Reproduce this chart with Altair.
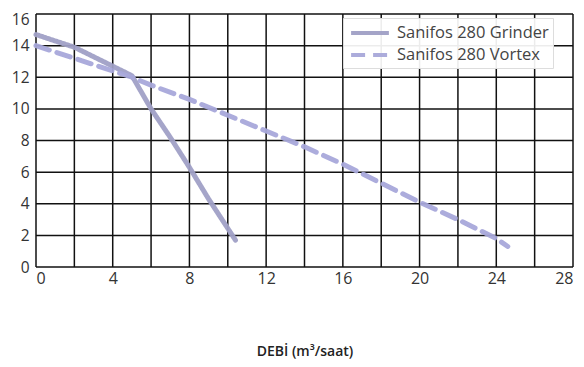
import altair as alt
import pandas as pd

grinder_x = [0, 2, 2.5, 4, 5, 6, 7, 8, 9, 10.4]
grinder_y = [14.7, 13.9, 13.6, 12.7, 12.1, 10.0, 8.2, 6.3, 4.3, 1.7]
vortex_x = [0, 2, 4, 5, 6, 8, 10, 12, 14, 16, 18, 20, 22, 24, 24.6]
vortex_y = [14.0, 13.2, 12.4, 12.0, 11.5, 10.6, 9.6, 8.6, 7.6, 6.5, 5.3, 4.1, 3.0, 1.8, 1.3]
series = ["Sanifos 280 Grinder", "Sanifos 280 Vortex"]
x_ticks = [0, 4, 8, 12, 16, 20, 24, 28]
y_ticks = [0, 2, 4, 6, 8, 10, 12, 14, 16]

rows = []
for i, (x, y) in enumerate(zip(grinder_x, grinder_y)):
    rows.append({"x": x, "y": y, "s": series[0], "o": i})
for i, (x, y) in enumerate(zip(vortex_x, vortex_y)):
    rows.append({"x": x, "y": y, "s": series[1], "o": i})
df = pd.DataFrame(rows)

font = "Open Sans"

legend = alt.Legend(title=None, orient="none", legendX=307, legendY=4,
                    symbolType="M-2.1,0H2.1", symbolStrokeWidth=4,
                    symbolSize=324, symbolOffset=12, labelFontSize=16.5, labelFont=font,
                    labelColor="#444", fillColor="rgba(255,255,255,0.92)",
                    strokeColor="#ddd", padding=4, rowPadding=2,
                    labelOffset=16, labelLimit=300)

x_axis = alt.Axis(values=x_ticks, grid=False, title="DEBİ (m³/saat)",
                  labelFontSize=16, labelColor="#333", labelOverlap=False,
                  labelFont=font, ticks=False, labelPadding=3,
                  domain=False, titleFont=font, titleFontSize=14,
                  titleFontWeight=600, titleColor="#222", titlePadding=58)
y_axis = alt.Axis(values=y_ticks, grid=False, title=None, labelFontSize=15.5,
                  labelColor="#333", labelFont=font, ticks=False,
                  labelOverlap=False, labelPadding=7, domain=False,
                  labelOffset={"condition": {"test": "datum.value == 16", "value": 5}, "value": 0})
x_scale = alt.Scale(domain=[0, 28], nice=False)
y_scale = alt.Scale(domain=[0, 16], nice=False)

lines = alt.Chart(df).mark_line(strokeWidth=5, strokeCap="round", strokeJoin="round", opacity=0.95).encode(
    x=alt.X("x:Q", scale=x_scale, axis=x_axis),
    y=alt.Y("y:Q", scale=y_scale, axis=y_axis),
    color=alt.Color("s:N", scale=alt.Scale(domain=series, range=["#a0a0c6", "#a8a8da"]),
                    legend=legend),
    strokeDash=alt.StrokeDash("s:N", scale=alt.Scale(domain=series, range=[[1, 0], [14, 8]]),
                              legend=legend),
    order="o:Q",
)

grid_x = list(range(0, 29, 2))
grid_y = list(range(0, 17, 2))
gx = alt.Chart(pd.DataFrame({"gx": grid_x})).mark_rule(color="#111", strokeWidth=1.5).encode(
    x=alt.X("gx:Q", scale=x_scale, axis=x_axis))
gy = alt.Chart(pd.DataFrame({"gy": grid_y})).mark_rule(color="#111", strokeWidth=1.5).encode(
    y=alt.Y("gy:Q", scale=y_scale, axis=y_axis))

chart = alt.layer(gx, gy, lines).properties(
    width=537, height=253,
    autosize=alt.AutoSizeParams(type="none"),
    padding={"left": 28, "top": 6, "right": 3, "bottom": 92},
    background="white",
).configure_view(stroke=None)

chart.save("out.html", embed_options={"renderer": "svg", "actions": False})
